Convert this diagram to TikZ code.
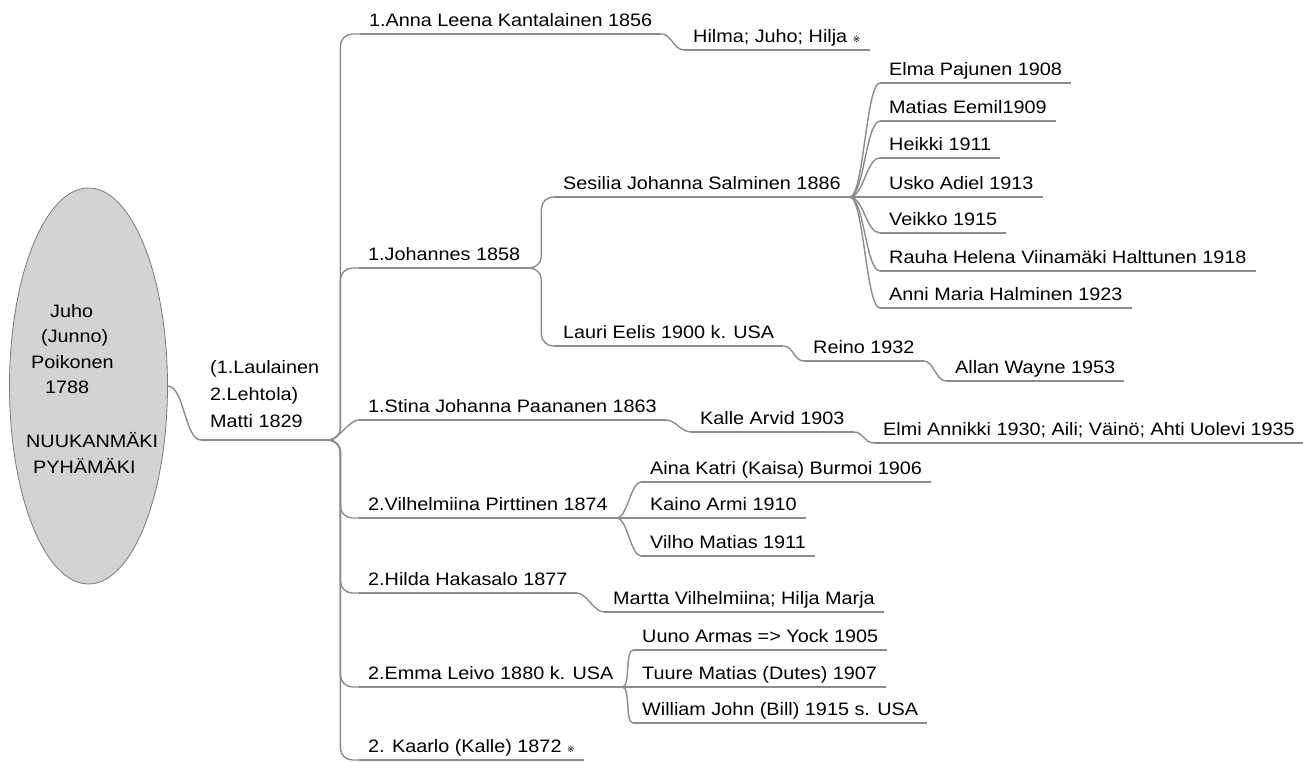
\documentclass[tikz,border=0pt]{standalone}
\usepackage{fontspec}
\setmainfont{Liberation Sans}[FakeStretch=1.1]
\newfontfamily\symfont{DejaVu Sans}
\usetikzlibrary{calc,shapes.geometric}
\definecolor{linegray}{HTML}{8C8C8C}
\definecolor{rootfill}{HTML}{D3D3D3}
\definecolor{rootedge}{HTML}{7A7A7A}
\newcommand\refmark{{\symfont\fontsize{9}{9}\selectfont ※}}
\newcommand\slink[3][12]{\draw[conn] (#2) .. controls +(#1,0) and +(-#1,0) .. (#3);}
\newcommand\tlink[2]{\draw[conn, rounded corners=12pt] (#1) -- ++(12,0) |- (#2);}
\begin{document}
\begin{tikzpicture}[x=1pt,y=-1pt,
  conn/.style={draw=linegray, line width=1.4pt},
  topic/.style={anchor=south west, inner xsep=9pt, inner ysep=0pt,
    text height=13pt, text depth=7.5pt, font=\fontsize{18}{21}\selectfont,
    append after command={(\tikzlastnode.south west) edge[conn] (\tikzlastnode.south east)}},
  multitopic/.style={anchor=south west, inner xsep=9pt, inner ysep=12pt, align=left,
    font=\fontsize{18}{27}\selectfont,
    append after command={(\tikzlastnode.south west) edge[conn] (\tikzlastnode.south east)}},
  rootshape/.style={ellipse, draw=rootedge, fill=rootfill, line width=0.8pt,
    minimum width=158pt, minimum height=396pt, inner sep=0pt},
  roottxt/.style={anchor=north west, inner sep=0pt, align=left,
    font=\fontsize{18}{25.5}\selectfont}
]
\useasboundingbox (0,0) rectangle (1303,762);

% root
\node[rootshape] (root) at (88.5,386) {};
\node[roottxt] (roottext) at (26,304) {\hspace*{24pt}Juho\\ \hspace*{15pt}(Junno)\\ \hspace*{5pt}Poikonen\\ \hspace*{19pt}1788\\[28.5pt]NUUKANMÄKI\\ \hspace*{7pt}PYHÄMÄKI};

% level 1
\node[multitopic] (matti) at (201,440) {(1.Laulainen\\2.Lehtola)\\Matti 1829};

% level 2
\node[topic] (anna) at (360,34) {1.Anna Leena Kantalainen 1856};
\node[topic] (johannes) at (359,268) {1.Johannes 1858};
\node[topic] (stina) at (359,420) {1.Stina Johanna Paananen 1863};
\node[topic] (vilh) at (359,518) {2.Vilhelmiina Pirttinen 1874};
\node[topic] (hilda) at (359,593) {2.Hilda Hakasalo 1877};
\node[topic] (emma) at (359,687) {2.Emma Leivo 1880 k. USA};
\node[topic] (kaarlo) at (359,760) {2. Kaarlo (Kalle) 1872 \refmark};

% level 3
\node[topic] (hilma) at (684,50) {Hilma; Juho; Hilja \refmark};
\node[topic] (sesilia) at (554,197) {Sesilia Johanna Salminen 1886};
\node[topic] (lauri) at (554,346) {Lauri Eelis 1900 k. USA};
\node[topic] (kalle) at (691,432) {Kalle Arvid 1903};
\node[topic] (aina) at (641,482) {Aina Katri (Kaisa) Burmoi 1906};
\node[topic] (kaino) at (641,518) {Kaino Armi 1910};
\node[topic] (vilho) at (641,556) {Vilho Matias 1911};
\node[topic] (martta) at (604,612) {Martta Vilhelmiina; Hilja Marja};
\node[topic] (uuno) at (633,650) {Uuno Armas => Yock 1905};
\node[topic] (tuure) at (633,687) {Tuure Matias (Dutes) 1907};
\node[topic] (william) at (633,723) {William John (Bill) 1915 s. USA};

% level 4
\node[topic] (elma) at (880,83) {Elma Pajunen 1908};
\node[topic] (matias) at (880,121) {Matias Eemil1909};
\node[topic] (heikki) at (880,158) {Heikki 1911};
\node[topic] (usko) at (880,197) {Usko Adiel 1913};
\node[topic] (veikko) at (880,233) {Veikko 1915};
\node[topic] (rauha) at (880,271) {Rauha Helena Viinamäki Halttunen 1918};
\node[topic] (anni) at (880,308) {Anni Maria Halminen 1923};
\node[topic] (reino) at (804,361) {Reino 1932};
\node[topic] (elmi) at (874,443) {Elmi Annikki 1930; Aili; Väinö; Ahti Uolevi 1935};

% level 5
\node[topic] (allan) at (946,381) {Allan Wayne 1953};

% connectors
\slink[16]{root.east}{matti.south west}

\tlink{matti.south east}{anna.south west}
\tlink{matti.south east}{johannes.south west}
\slink[10]{matti.south east}{stina.south west}
\tlink{matti.south east}{vilh.south west}
\tlink{matti.south east}{hilda.south west}
\tlink{matti.south east}{emma.south west}
\tlink{matti.south east}{kaarlo.south west}

\slink[10]{anna.south east}{hilma.south west}
\tlink{johannes.south east}{sesilia.south west}
\tlink{johannes.south east}{lauri.south west}
\slink[10]{stina.south east}{kalle.south west}
\slink[10]{vilh.south east}{aina.south west}
\slink[10]{vilh.south east}{kaino.south west}
\slink[10]{vilh.south east}{vilho.south west}
\slink[10]{hilda.south east}{martta.south west}
\slink[8]{emma.south east}{uuno.south west}
\slink[8]{emma.south east}{tuure.south west}
\slink[8]{emma.south east}{william.south west}

\slink[14]{sesilia.south east}{elma.south west}
\slink[14]{sesilia.south east}{matias.south west}
\slink[14]{sesilia.south east}{heikki.south west}
\slink[14]{sesilia.south east}{usko.south west}
\slink[14]{sesilia.south east}{veikko.south west}
\slink[14]{sesilia.south east}{rauha.south west}
\slink[14]{sesilia.south east}{anni.south west}
\slink[10]{lauri.south east}{reino.south west}
\slink[10]{kalle.south east}{elmi.south west}
\slink[10]{reino.south east}{allan.south west}
\end{tikzpicture}
\end{document}
